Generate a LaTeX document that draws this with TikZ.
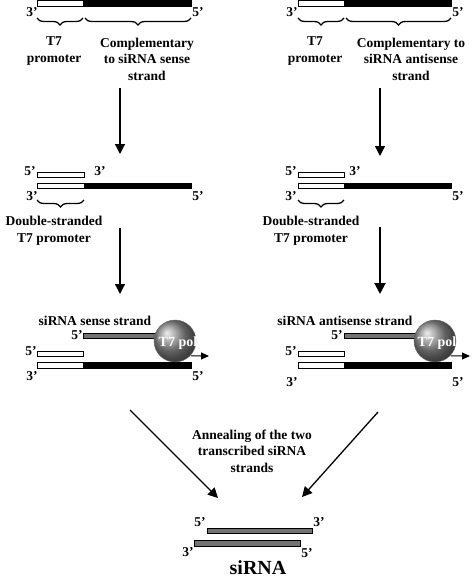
\documentclass[tikz,border=0pt]{standalone}
\usepackage{fontspec}
\setmainfont{Liberation Serif}
\usetikzlibrary{arrows.meta,decorations.pathreplacing,shadings}
\begin{document}
\begin{tikzpicture}[x=1pt,y=-1pt,
  lbl/.style={font=\fontsize{13.5}{16.5}\selectfont\bfseries, inner sep=0pt, align=center},
  big/.style={font=\fontsize{20}{22}\selectfont\bfseries, inner sep=0pt},
  wbar/.style={draw=black, fill=white, line width=0.8pt},
  bbar/.style={draw=black, fill=black, line width=0.8pt},
  gbar/.style={draw=black, fill=black!55, line width=0.8pt},
  brc/.style={decorate, decoration={brace, mirror, amplitude=7pt}, line width=1.3pt},
  arr/.style={-{Triangle[width=10pt,length=10pt]}, line width=1.3pt},
  tarr/.style={-{Triangle[width=11pt,length=11pt]}, line width=2pt},
  sarr/.style={-{Triangle[width=7pt,length=8pt]}, line width=1pt},
  pol/.style={circle, minimum size=42pt, inner sep=0pt, shading=ball, ball color=black!45, draw=black!60, line width=0.4pt},
  poltxt/.style={font=\fontsize{14}{15}\selectfont\bfseries, text=white, inner sep=0pt}
]
\useasboundingbox (0,0) rectangle (474,578);

% ---------- Row 1 left ----------
\path[wbar] (37,0.5) rectangle (83,6);
\path[bbar] (83,0.5) rectangle (191,6);
\node[lbl] (l1a) at (32,12) {3’};
\node[lbl] (l1b) at (198,12) {5’};
\draw[brc] (37,18) -- (83,18);
\draw[brc] (85,18) -- (191,18);
\node[lbl] (l1t7) at (54,51) {T7\\promoter};
\node[lbl] (l1comp) at (147,59) {Complementary\\to siRNA sense\\strand};

% ---------- Row 1 right ----------
\path[wbar] (298,0.5) rectangle (344,6);
\path[bbar] (344,0.5) rectangle (451,6);
\node[lbl] (r1a) at (292,12) {3’};
\node[lbl] (r1b) at (458,12) {5’};
\draw[brc] (298,18) -- (344,18);
\draw[brc] (346,18) -- (451,18);
\node[lbl] (r1t7) at (315,51) {T7\\promoter};
\node[lbl] (r1comp) at (411,59) {Complementary to\\siRNA antisense\\strand};

% arrows row 1 -> row 2
\coordinate (a1s) at (120,88); \coordinate (a1e) at (120,154);
\coordinate (b1s) at (380,88); \coordinate (b1e) at (380,156);
\draw[arr] (a1s) -- (a1e);
\draw[arr] (b1s) -- (b1e);

% ---------- Row 2 left ----------
\path[wbar] (37,172) rectangle (84,177);
\path[wbar] (37,183) rectangle (84,188);
\path[bbar] (84,183) rectangle (191,188);
\node[lbl] (l2a) at (30,171) {5’};
\node[lbl] (l2b) at (100,171) {3’};
\node[lbl] (l2c) at (32,196) {3’};
\node[lbl] (l2d) at (198,196) {5’};
\draw[brc] (37,200) -- (84,200);
\node[lbl] (l2txt) at (54,231) {Double-stranded\\T7 promoter};

% ---------- Row 2 right ----------
\path[wbar] (298,172) rectangle (344,177);
\path[wbar] (298,183) rectangle (344,188);
\path[bbar] (344,183) rectangle (451,188);
\node[lbl] (r2a) at (291,171) {5’};
\node[lbl] (r2b) at (355,171) {3’};
\node[lbl] (r2c) at (291,196) {3’};
\node[lbl] (r2d) at (458,196) {5’};
\draw[brc] (298,200) -- (344,200);
\node[lbl] (r2txt) at (311,231) {Double-stranded\\T7 promoter};

% arrows row 2 -> row 3
\coordinate (a2s) at (120,228); \coordinate (a2e) at (120,294);
\coordinate (b2s) at (380,227); \coordinate (b2e) at (380,294);
\draw[arr] (a2s) -- (a2e);
\draw[tarr] (b2s) -- (b2e);

% ---------- Row 3 left ----------
\node[lbl] (l3txt) at (95,321) {siRNA sense strand};
\path[gbar] (83,333) rectangle (165,338);
\node[lbl] (l3a) at (77,335) {5’};
\path[wbar] (37,351) rectangle (83,356);
\node[lbl] (l3b) at (31,351) {5’};
\path[wbar] (37,362) rectangle (83,368);
\path[bbar] (83,362) rectangle (191,368);
\node[lbl] (l3c) at (32,376) {3’};
\node[lbl] (l3d) at (198,376) {5’};
\node[pol] (polL) at (175,341) {};
\begin{scope}
  \clip (polL.center) circle (21pt);
  \node[poltxt] (polLt) at (178,343) {T7 pol};
\end{scope}
\coordinate (polLa) at (209,356);
\draw[sarr] (polL.-45) ++(1,0) coordinate (polLs) (polLs) -- (polLa);

% ---------- Row 3 right ----------
\node[lbl] (r3txt) at (345,321) {siRNA antisense strand};
\path[gbar] (344,333) rectangle (425,338);
\node[lbl] (r3a) at (337,335) {5’};
\path[wbar] (298,351) rectangle (344,356);
\node[lbl] (r3b) at (291,351) {5’};
\path[wbar] (298,362) rectangle (344,368);
\path[bbar] (344,362) rectangle (451,368);
\node[lbl] (r3c) at (292,382) {3’};
\node[lbl] (r3d) at (458,382) {5’};
\node[pol] (polR) at (435,341) {};
\begin{scope}
  \clip (polR.center) circle (21pt);
  \node[poltxt] (polRt) at (437,343) {T7 pol};
\end{scope}
\coordinate (polRa) at (470,356);
\draw[sarr] (polR.-45) ++(1,0) coordinate (polRs) (polRs) -- (polRa);

% ---------- Annealing ----------
\coordinate (dls) at (130,410); \coordinate (dle) at (218,498);
\coordinate (drs) at (378,412); \coordinate (dre) at (302,497);
\draw[arr] (dls) -- (dle);
\draw[arr] (drs) -- (dre);
\node[lbl] (ann) at (252,451) {Annealing of the two\\transcribed siRNA\\strands};

% ---------- siRNA ----------
\path[gbar] (207,528) rectangle (312,533);
\path[gbar] (194,540) rectangle (300,546);
\node[lbl] (s1) at (200,522) {5’};
\node[lbl] (s2) at (319,522) {3’};
\node[lbl] (s3) at (188,552) {3’};
\node[lbl] (s4) at (307,553) {5’};
\node[big] (sirna) at (258,568) {siRNA};
\end{tikzpicture}
\end{document}
